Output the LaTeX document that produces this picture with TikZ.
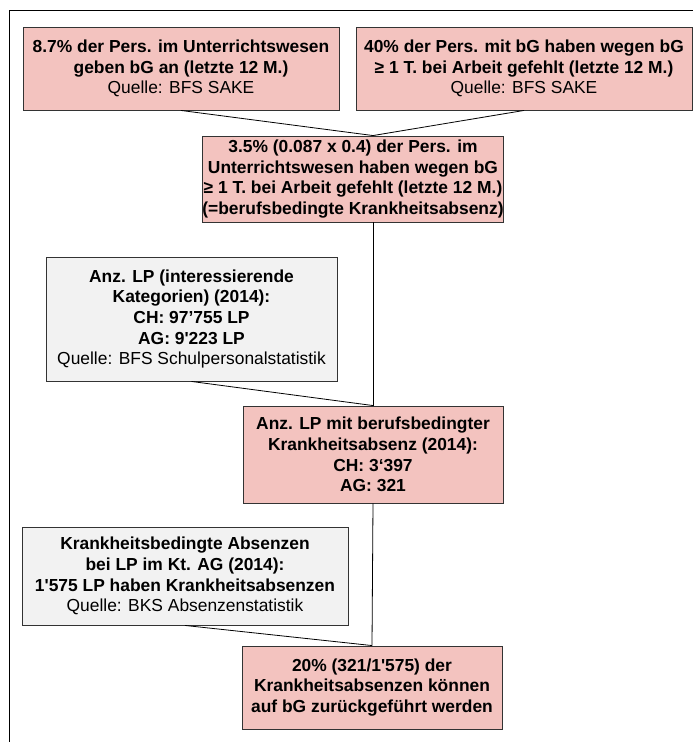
\documentclass[tikz,border=0pt]{standalone}
\usepackage{fontspec}
\setmainfont{Liberation Sans}
\definecolor{FlowPink}{RGB}{243,195,191}
\definecolor{FlowGray}{RGB}{242,242,242}

\begin{document}
\begin{tikzpicture}[x=1pt,y=-1pt,
  kbox/.style n args={3}{draw=black!80,line width=0.9pt,fill=#1,minimum width=#2pt,minimum height=#3pt,inner sep=0pt,align=center,font=\fontsize{17.4}{20.7}\selectfont},
  link/.style={draw=black,line width=0.8pt}]
\useasboundingbox (0,0) rectangle (693,742);
\draw[line width=1pt] (693,10) -- (9.5,10) -- (9.5,742);
% obere Reihe
\node[kbox={FlowPink}{316}{83}] (sake1) at (181,68.5)
   {\textbf{8.7\% der Pers. im Unterrichtswesen}\\ \textbf{geben bG an (letzte 12 M.)}\\ Quelle: BFS SAKE};
\node[kbox={FlowPink}{336}{83}] (sake2) at (524,68.5)
   {\textbf{40\% der Pers. mit bG haben wegen bG}\\ \textbf{≥ 1 T. bei Arbeit gefehlt (letzte 12 M.)}\\ Quelle: BFS SAKE};
\node[kbox={FlowPink}{298}{86}] (anteil) at (353,179)
   {\textbf{3.5\% (0.087 x 0.4) der Pers. im}\\ \textbf{Unterrichtswesen haben wegen bG}\\ \textbf{≥ 1 T. bei Arbeit gefehlt (letzte 12 M.)}\\ \textbf{(=berufsbedingte Krankheitsabsenz)}};
% Lehrpersonen
\node[kbox={FlowGray}{291}{124}] (anzlp) at (191.5,319)
   {\textbf{Anz. LP (interessierende}\\ \textbf{Kategorien) (2014):}\\ \textbf{CH: 97’755 LP}\\ \textbf{AG: 9\textquotesingle 223 LP}\\ Quelle: BFS Schulpersonalstatistik};
\node[kbox={FlowPink}{260}{97}] (lpabs) at (373,454.5)
   {\textbf{Anz. LP mit berufsbedingter}\\ \textbf{Krankheitsabsenz (2014):}\\ \textbf{CH: 3‘397}\\ \textbf{AG: 321}};
% Absenzen
\node[kbox={FlowGray}{326}{98}] (bks) at (185,576)
   {\textbf{Krankheitsbedingte Absenzen}\\ \textbf{bei LP im Kt. AG (2014):}\\ \textbf{1\textquotesingle 575 LP haben Krankheitsabsenzen}\\ Quelle: BKS Absenzenstatistik};
\node[kbox={FlowPink}{260}{83}] (result) at (372,687.5)
   {\textbf{20\% (321/1\textquotesingle 575) der}\\ \textbf{Krankheitsabsenzen können}\\ \textbf{auf bG zurückgeführt werden}};

\coordinate (anteilin) at (anteil.north -| lpabs.north);
\coordinate (anteilout) at (anteil.south -| lpabs.north);
\draw[link] (sake1.south) -- (anteilin);
\draw[link] (sake2.south) -- (anteilin);
\draw[link] (anteilout) -- (lpabs.north);
\draw[link] (anzlp.south) -- (lpabs.north);
\draw[link] (lpabs.south) -- (result.north);
\draw[link] (bks.south) -- (result.north);
\end{tikzpicture}
\end{document}
